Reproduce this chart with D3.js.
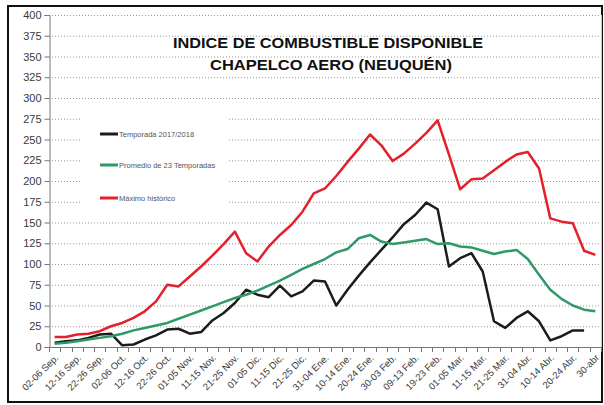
<!DOCTYPE html>
<html>
<head>
<meta charset="utf-8">
<script src="https://cdn.jsdelivr.net/npm/d3@7"></script>
<style>
  body { margin: 0; background: #fff; }
  svg { display: block; font-family: "Liberation Sans", Arial, sans-serif; }
</style>
</head>
<body>
<script>
// 5-day periods, Sep 2017 -> Apr 2018
var periods = ["02-06 Sep.","07-11 Sep.","12-16 Sep.","17-21 Sep.","22-26 Sep.","27-01 Oct.",
  "02-06 Oct.","07-11 Oct.","12-16 Oct.","17-21 Oct.","22-26 Oct.","27-31 Oct.",
  "01-05 Nov.","06-10 Nov.","11-15 Nov.","16-20 Nov.","21-25 Nov.","26-30 Nov.",
  "01-05 Dic.","06-10 Dic.","11-15 Dic.","16-20 Dic.","21-25 Dic.","26-30 Dic.",
  "31-04 Ene.","05-09 Ene.","10-14 Ene.","15-19 Ene.","20-24 Ene.","25-29 Ene.",
  "30-03 Feb.","04-08 Feb.","09-13 Feb.","14-18 Feb.","19-23 Feb.","24-28 Feb.",
  "01-05 Mar.","06-10 Mar.","11-15 Mar.","16-20 Mar.","21-25 Mar.","26-30 Mar.",
  "31-04 Abr.","05-09 Abr.","10-14 Abr.","15-19 Abr.","20-24 Abr.","25-29 Abr.",
  "30-abr"];

var temporada = [5,7,8,11,15,16,2,3,9,14,21,22,16,18,32,41,53,69,63,60,74,61,67,80,79,
  50,69,86,102,117,132,148,159,174,166,97,107,113,91,31,23,35,43,31,8,13,20,20];

var promedio = [4,5,7,9,11,13,16,20,23,26,29,34,39,44,49,54,59,63,68,74,80,87,94,100,106,
  114,118,131,135,127,124,126,128,130,124,125,121,120,116,112,115,117,106,87,69,58,50,45,43];

var maximo = [12,12,15,16,19,25,29,35,43,55,75,73,85,97,110,124,139,113,103,121,135,147,163,185,191,
  206,223,239,256,243,224,233,245,258,273,232,190,202,203,213,223,232,235,215,155,151,149,116,111];

var yTicks = d3.range(0, 401, 25);

var seriesNames = ["Temporada 2017/2018", "Promedio de 23 Temporadas", "Máximo histórico"];
var seriesColors = ["#1c1c1c", "#2f9a68", "#e4202a"];

var width = 604, height = 405;
var plot = {left: 49, right: 601, top: 15, bottom: 347};

var svg = d3.select("body").append("svg")
    .attr("width", width)
    .attr("height", height);

// outer frame
svg.append("rect")
    .attr("x", 8).attr("y", 6)
    .attr("width", 594).attr("height", 396)
    .attr("fill", "#fff")
    .attr("stroke", "#111")
    .attr("stroke-width", 2);

var x = d3.scaleBand()
    .domain(d3.range(periods.length))
    .range([plot.left, plot.right])
    .padding(0);

var xEdge = d3.scaleLinear()
    .domain([0, periods.length])
    .range([plot.left, plot.right]);

var y = d3.scaleLinear()
    .domain([0, 400])
    .range([plot.bottom, plot.top]);

// gridlines
svg.append("g")
    .selectAll("line")
    .data(yTicks.filter(function (d) { return d > 0; }))
    .enter().append("line")
    .attr("x1", plot.left).attr("x2", plot.right)
    .attr("y1", function (d) { return y(d) + 0.5; })
    .attr("y2", function (d) { return y(d) + 0.5; })
    .attr("stroke", "#9a9a9a")
    .attr("stroke-width", 1)
    .attr("stroke-dasharray", "1,2");

// right edge of plot area
svg.append("line")
    .attr("x1", plot.right + 0.5).attr("x2", plot.right + 0.5)
    .attr("y1", plot.top).attr("y2", plot.bottom)
    .attr("stroke", "#c8c8c8");

// y axis
var yAxis = svg.append("g")
    .attr("transform", "translate(" + (plot.left + 0.5) + ",0)")
    .call(d3.axisLeft(y).tickValues(yTicks).tickSize(5).tickPadding(3));
yAxis.select(".domain").attr("stroke", "#777");
yAxis.selectAll(".tick line").attr("stroke", "#777");
yAxis.selectAll("text")
    .attr("fill", "#3a3a3a")
    .style("font-size", "11px");

// x axis line and boundary ticks
svg.append("line")
    .attr("x1", plot.left).attr("x2", plot.right)
    .attr("y1", plot.bottom + 0.5).attr("y2", plot.bottom + 0.5)
    .attr("stroke", "#777");

svg.append("g")
    .selectAll("line")
    .data(d3.range(periods.length + 1))
    .enter().append("line")
    .attr("x1", function (d) { return Math.round(xEdge(d)) + 0.5; })
    .attr("x2", function (d) { return Math.round(xEdge(d)) + 0.5; })
    .attr("y1", plot.bottom)
    .attr("y2", plot.bottom + 5)
    .attr("stroke", "#777");

var xAxis = svg.append("g")
    .attr("transform", "translate(0," + plot.bottom + ")")
    .call(d3.axisBottom(x)
        .tickValues(d3.range(0, periods.length, 2))
        .tickFormat(function (i) { return periods[i]; })
        .tickSize(0));
xAxis.select(".domain").remove();
xAxis.selectAll("text")
    .attr("x", 0).attr("y", 0).attr("dy", "0.35em")
    .attr("transform", "translate(2,9) rotate(-45)")
    .style("text-anchor", "end")
    .style("font-size", "9.5px")
    .attr("fill", "#3a3a3a");

// lines
var line = d3.line()
    .defined(function (d) { return d != null; })
    .x(function (d, i) { return x(i) + x.bandwidth() / 2; })
    .y(function (d) { return y(d); });

[temporada, promedio, maximo].forEach(function (s, k) {
    svg.append("path")
        .datum(s)
        .attr("fill", "none")
        .attr("stroke", seriesColors[k])
        .attr("stroke-width", 2.5)
        .attr("stroke-linejoin", "round")
        .attr("d", line);
});

// legend (white box hides gridlines behind it)
var legend = svg.append("g");
legend.append("rect")
    .attr("x", 80).attr("y", 100)
    .attr("width", 147).attr("height", 110)
    .attr("fill", "#fff");

var legendY = [134, 165, 198];
seriesNames.forEach(function (name, k) {
    legend.append("line")
        .attr("x1", 100).attr("x2", 118)
        .attr("y1", legendY[k]).attr("y2", legendY[k])
        .attr("stroke", seriesColors[k])
        .attr("stroke-width", 3);
    legend.append("text")
        .attr("x", 119).attr("y", legendY[k])
        .attr("dy", "0.35em")
        .style("font-size", "7.5px")
        .attr("fill", "#555")
        .text(name);
});

// title
var title = svg.append("g")
    .style("font-weight", "bold")
    .attr("fill", "#111")
    .attr("text-anchor", "middle");
title.append("text")
    .attr("x", 328).attr("y", 48)
    .style("font-size", "15px")
    .attr("textLength", 310)
    .attr("lengthAdjust", "spacingAndGlyphs")
    .text("INDICE DE COMBUSTIBLE DISPONIBLE");
title.append("text")
    .attr("x", 331).attr("y", 70)
    .style("font-size", "15px")
    .attr("textLength", 242)
    .attr("lengthAdjust", "spacingAndGlyphs")
    .text("CHAPELCO AERO (NEUQUÉN)");
</script>
</body>
</html>
